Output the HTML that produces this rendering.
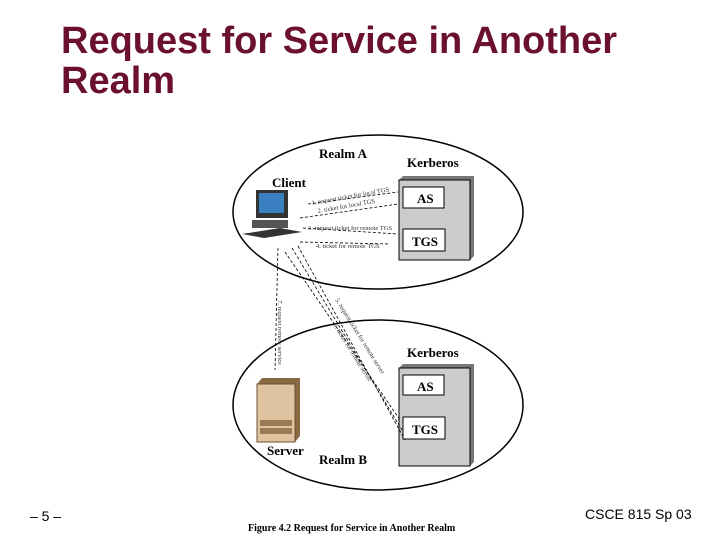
<!DOCTYPE html>
<html><head><style>
body{margin:0;width:720px;height:540px;background:#fff;position:relative;overflow:hidden;font-family:"Liberation Sans",sans-serif}
.t{position:absolute;left:61px;top:21px;color:#6b1030;font-size:38px;font-weight:bold;line-height:40px;white-space:nowrap}
.f{position:absolute;font-size:14px;color:#000}
</style></head><body>
<div class="t">Request for Service in Another<br>Realm</div>
<div class="f" style="left:30px;top:508px">– 5 –</div>
<div class="f" style="left:585px;top:506px">CSCE 815 Sp 03</div>
<svg width="720" height="540" style="position:absolute;left:0;top:0" font-family="Liberation Serif,serif">
<ellipse cx="378" cy="212" rx="145" ry="77" fill="none" stroke="#000" stroke-width="1.5"/>
<ellipse cx="378" cy="405" rx="145" ry="85" fill="none" stroke="#000" stroke-width="1.5"/>
<g font-weight="bold" font-size="13">
<text x="319" y="158">Realm A</text>
<text x="407" y="167">Kerberos</text>
<text x="272" y="187">Client</text>
<text x="407" y="357">Kerberos</text>
<text x="267" y="455">Server</text>
<text x="319" y="464">Realm B</text>
</g>
<polygon points="399,180 403,176 474,176 474,256 470,260 470,180" fill="#777"/>
<rect x="399" y="180" width="71" height="80" fill="#ccc" stroke="#000"/>
<rect x="403" y="187" width="41" height="21" fill="#fff" stroke="#000"/>
<rect x="403" y="229" width="42" height="22" fill="#fff" stroke="#000"/>
<polygon points="399,368 403,364 474,364 474,462 470,466 470,368" fill="#777"/>
<rect x="399" y="368" width="71" height="98" fill="#ccc" stroke="#000"/>
<rect x="403" y="375" width="41" height="20" fill="#fff" stroke="#000"/>
<rect x="403" y="417" width="42" height="22" fill="#fff" stroke="#000"/>
<g font-weight="bold" font-size="13">
<text x="417" y="203">AS</text><text x="412" y="246">TGS</text>
<text x="417" y="391">AS</text><text x="412" y="434">TGS</text>
</g>
<rect x="256" y="190" width="32" height="28" fill="#333"/>
<rect x="259" y="193" width="25" height="20" fill="#3a7fc0"/>
<rect x="252" y="220" width="36" height="8" fill="#555"/>
<polygon points="242,234 280,228 302,232 264,238" fill="#333"/>
<polygon points="257,384 262,378 300,378 300,436 295,442 295,384" fill="#8a6a45"/>
<rect x="257" y="384" width="38" height="58" fill="#e0c3a0" stroke="#6a5030"/>
<rect x="260" y="420" width="32" height="6" fill="#9c7a55"/>
<rect x="260" y="428" width="32" height="6" fill="#9c7a55"/>
<g stroke="#000" stroke-width="0.8" stroke-dasharray="3,2" fill="none">
<line x1="308" y1="204" x2="398" y2="192"/>
<line x1="300" y1="218" x2="398" y2="204"/>
<line x1="303" y1="228" x2="398" y2="234"/>
<line x1="300" y1="242" x2="390" y2="244"/>
<line x1="278" y1="248" x2="275" y2="370"/>
<line x1="285" y1="252" x2="400" y2="420"/>
<line x1="292" y1="248" x2="402" y2="430"/>
<line x1="298" y1="246" x2="405" y2="440"/>
</g>
<g font-size="6.5" fill="#333">
<text x="312" y="205" transform="rotate(-10 312 205)">1. request ticket for local TGS</text>
<text x="318" y="213" transform="rotate(-10 318 213)">2. ticket for local TGS</text>
<text x="308" y="230">3. request ticket for remote TGS</text>
<text x="316" y="248">4. ticket for remote TGS</text>
<text x="278" y="300" transform="rotate(90 278 300)">7. request remote service</text>
<text x="335" y="300" transform="rotate(58 335 300)">5. request ticket for remote server</text>
<text x="333" y="325" transform="rotate(58 333 325)">6. ticket for remote server</text>
</g>
<text x="248" y="531" font-size="10" font-weight="bold">Figure 4.2   Request for Service in Another Realm</text>
</svg>
</body></html>
